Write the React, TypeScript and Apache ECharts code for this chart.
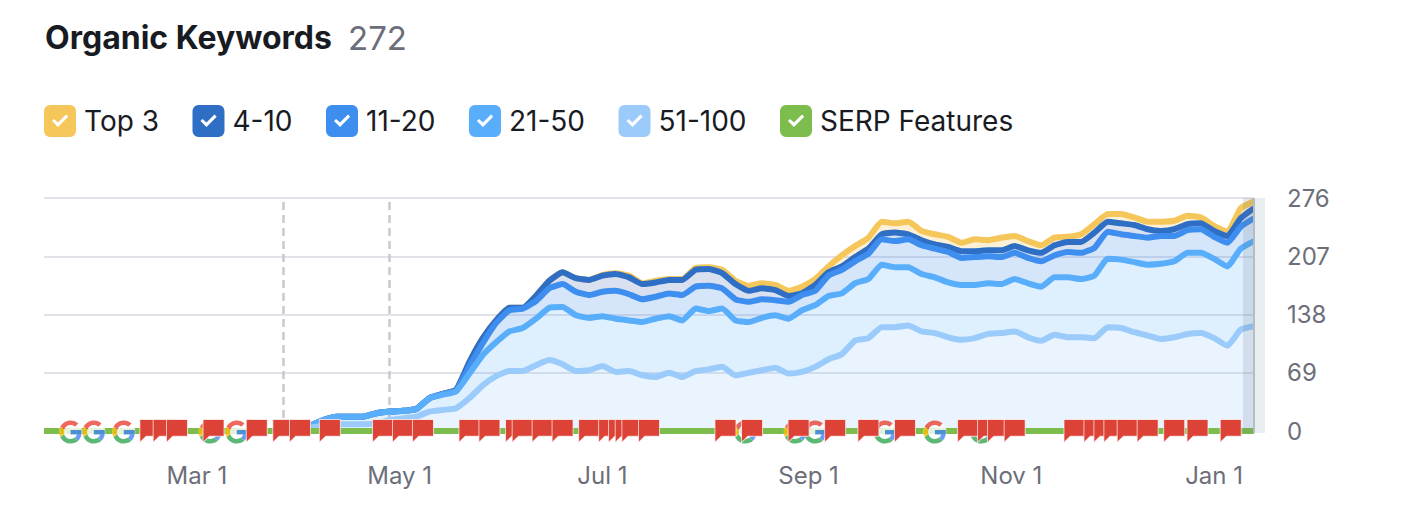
import React, { useEffect, useRef } from "react";
import * as echarts from "echarts";

const FONT = "Inter, 'Noto Sans', sans-serif";

// Level of the top edge of each band, one reading every 4 days from 2023-01-14.
const topThreeLevel = [
  0,0,0,0,0,0,0,0,0,0,0,0,0,0,0,0,0,0,0,0,
  6,13,17,17,17,21,23,24,26,39,44,49,82,110,131,146,146,160,178,188,
  181,179,185,187,184,175,178,180,180,193,194,191,178,172,175,173,166,171,180,195,
  208,219,229,248,246,248,237,233,230,223,227,226,229,231,225,220,229,230,233,245,
  257,257,253,248,248,249,255,253,243,236,264,272,
];
const fourToTenLevel = [
  0,0,0,0,0,0,0,0,0,0,0,0,0,0,0,0,0,0,0,0,
  6,13,17,17,17,21,23,24,26,39,44,49,82,110,131,146,146,160,178,188,
  181,179,184,186,182,174,176,179,179,191,192,187,174,166,169,167,160,163,173,188,
  195,206,216,233,235,233,226,221,218,213,213,214,214,219,214,211,220,224,224,235,
  248,246,244,239,237,239,245,246,237,231,252,264,
];
const elevenToTwentyLevel = [
  0,0,0,0,0,0,0,0,0,0,0,0,0,0,0,0,0,0,0,0,
  6,13,17,17,17,21,23,24,26,39,44,48,77,104,128,143,145,154,169,174,
  165,161,165,166,162,156,159,163,161,171,172,169,156,153,156,155,153,161,166,184,
  191,201,210,227,225,227,220,216,212,205,206,207,206,211,205,201,208,212,211,217,
  236,233,231,229,231,231,238,239,230,223,242,252,
];
const twentyOneToFiftyLevel = [
  0,0,0,0,0,0,0,0,0,0,0,0,0,0,0,0,0,0,0,0,
  6,13,17,17,17,21,23,24,26,39,43,47,68,90,105,118,122,133,146,147,
  137,134,136,133,131,129,133,136,131,145,142,145,131,129,134,137,133,143,149,160,
  163,175,180,197,194,194,186,182,176,173,173,175,174,180,175,171,182,182,180,184,
  204,203,200,197,198,201,211,211,204,195,216,225,
];
const fiftyOneToHundredLevel = [
  0,0,0,0,0,0,0,0,0,0,0,0,0,0,0,0,0,0,0,0,
  4,6,8,8,8,9,13,15,17,23,25,27,39,54,65,71,71,78,84,79,
  71,72,77,70,71,66,64,69,64,71,73,76,66,69,72,75,68,70,76,85,
  91,107,110,123,123,125,118,116,111,108,110,115,116,118,111,107,114,111,111,110,
  123,122,117,113,109,111,115,116,110,101,120,124,
];

const legendNames = ["Top 3", "4-10", "11-20", "21-50", "51-100", "SERP Features"];
const yTicks = [0, 69, 138, 207, 276];
const xTickDates = ["2023-03-01", "2023-05-01", "2023-07-01", "2023-09-01", "2023-11-01", "2024-01-01"];
const dashedLineDates = ["2023-03-27", "2023-04-28"];

const flagDates = [
  "2023-02-15","2023-02-19","2023-02-23","2023-03-06","2023-03-19","2023-03-27","2023-04-01","2023-04-10",
  "2023-04-26","2023-05-02","2023-05-08","2023-05-22","2023-05-28","2023-06-05","2023-06-07","2023-06-13",
  "2023-06-19","2023-06-27","2023-07-03","2023-07-06","2023-07-08","2023-07-10","2023-07-15","2023-08-07",
  "2023-08-15","2023-08-29","2023-09-09","2023-09-19","2023-09-30","2023-10-19","2023-10-25","2023-10-28",
  "2023-11-02","2023-11-20","2023-11-26","2023-11-29","2023-12-02","2023-12-06","2023-12-12","2023-12-20",
  "2023-12-27","2024-01-06",
];
const googleDates = [
  "2023-01-22","2023-01-29","2023-02-07","2023-03-05","2023-03-13","2023-08-13",
  "2023-08-28","2023-09-03","2023-09-24","2023-10-09","2023-10-23",
];

const MONTHS = ["Jan","Feb","Mar","Apr","May","Jun","Jul","Aug","Sep","Oct","Nov","Dec"];
const DAY = 86400000;
const toTime = (s: string) => Date.UTC(+s.slice(0, 4), +s.slice(5, 7) - 1, +s.slice(8, 10));
const START = toTime("2023-01-14");
const END = START + 364 * DAY;
const sampleTimes = topThreeLevel.map((_, i) => START + i * 4 * DAY);

const CHECK_ICON =
  "path://M6 0H26A6 6 0 0 1 32 6V26A6 6 0 0 1 26 32H6A6 6 0 0 1 0 26V6A6 6 0 0 1 6 0ZM8 16L14 22L24.2 11.7L22 9.5L14 17.5L10 14Z";
const FLAG_ICON = "path://M0 0H20V16H6L0 22Z";
const GOOGLE_SVG =
  '<svg xmlns="http://www.w3.org/2000/svg" viewBox="-1 -1 50 50"><circle cx="24" cy="24" r="24" fill="#fff"/>' +
  '<path fill="#EA4335" d="M24 9.5c3.54 0 6.71 1.22 9.21 3.6l6.85-6.85C35.9 2.38 30.47 0 24 0 14.62 0 6.51 5.38 2.56 13.22l7.98 6.19C12.43 13.72 17.74 9.5 24 9.5z"/>' +
  '<path fill="#4285F4" d="M46.98 24.55c0-1.57-.15-3.09-.38-4.55H24v9.02h12.94c-.58 2.96-2.26 5.48-4.78 7.18l7.73 6c4.51-4.18 7.09-10.36 7.09-17.65z"/>' +
  '<path fill="#FBBC05" d="M10.53 28.59c-.5-1.45-.79-3-.79-4.59s.27-3.14.76-4.59l-7.98-6.19C.92 16.46 0 20.12 0 24c0 3.88.92 7.54 2.56 10.78l7.97-6.19z"/>' +
  '<path fill="#34A853" d="M24 48c6.48 0 11.93-2.13 15.89-5.81l-7.73-6c-2.15 1.45-4.92 2.3-8.16 2.3-6.26 0-11.57-4.22-13.47-9.91l-7.98 6.19C6.51 42.62 14.62 48 24 48z"/></svg>';
const GOOGLE_ICON = "image://data:image/svg+xml;charset=utf-8," + encodeURIComponent(GOOGLE_SVG);

function band(name: string, upper: number[], lower: number[] | null, color: string, fill: string, z: number, extra: any = {}) {
  return {
    name,
    type: "line",
    stack: "keywords",
    z,
    showSymbol: false,
    symbol: "none",
    smooth: 0.15,
    itemStyle: { color },
    lineStyle: { color, width: 6, join: "round" },
    areaStyle: { color: fill, opacity: 1 },
    emphasis: { disabled: true },
    data: upper.map((v, i) => [sampleTimes[i], lower ? v - lower[i] : v]),
    ...extra,
  };
}

export default function App() {
  const ref = useRef<HTMLDivElement>(null);
  useEffect(() => {
    if (!ref.current) return;
    const chart = echarts.init(ref.current, undefined, { renderer: "svg" });
    chart.setOption({
      animation: false,
      backgroundColor: "#fff",
      title: [
        { text: "Organic Keywords", left: 45, top: 21, padding: 0, textStyle: { fontFamily: FONT, fontSize: 32, fontWeight: 700, color: "#191b23" } },
        { text: "272", left: 348, top: 21, padding: 0, textStyle: { fontFamily: FONT, fontSize: 33, fontWeight: 400, color: "#6c6e79" } },
      ],
      legend: {
        left: 44,
        top: 105,
        padding: 0,
        itemGap: 33.5,
        itemWidth: 32,
        itemHeight: 32,
        icon: CHECK_ICON,
        selectedMode: false,
        data: legendNames,
        itemStyle: { borderWidth: 0 },
        lineStyle: { width: 0 },
        textStyle: { fontFamily: FONT, fontSize: 28, color: "#191b23", padding: [0, 0, 0, 3] },
      },
      grid: { left: 44, right: 164, top: 198, bottom: 85 },
      xAxis: [
        {
          type: "time",
          min: START,
          max: END,
          axisLine: { show: false },
          axisTick: { show: false },
          splitLine: { show: false },
          axisLabel: { show: false },
        },
        {
          type: "value",
          position: "bottom",
          min: START,
          max: END,
          axisLine: { show: false },
          axisTick: { show: false },
          splitLine: { show: false },
          axisLabel: {
            customValues: xTickDates.map(toTime),
            margin: 32,
            fontFamily: FONT,
            fontSize: 24,
            color: "#6c6e79",
            formatter: (v: number) => { const d = new Date(v); return `${MONTHS[d.getUTCMonth()]} ${d.getUTCDate()}`; },
          },
        },
      ],
      yAxis: {
        type: "value",
        position: "right",
        min: 0,
        max: yTicks[yTicks.length - 1],
        interval: yTicks[1],
        axisLine: { show: false },
        axisTick: { show: false },
        splitLine: { lineStyle: { color: "#e1e2ea", width: 2 } },
        axisLabel: { margin: 33, fontFamily: FONT, fontSize: 24, color: "#6c6e79", padding: [0, 0, 4, 0] },
      },
      series: [
        band("51-100", fiftyOneToHundredLevel, null, "#9bcbfb", "rgba(155,203,251,0.22)", 6, {
          markLine: {
            silent: true,
            symbol: "none",
            label: { show: false },
            lineStyle: { color: "#c6c9ce", width: 2.5, type: [8, 5] },
            data: dashedLineDates.map((d) => ({ xAxis: toTime(d) })),
          },
        }),
        band("21-50", twentyOneToFiftyLevel, fiftyOneToHundredLevel, "#59aefb", "rgba(89,174,251,0.2)", 5),
        band("11-20", elevenToTwentyLevel, twentyOneToFiftyLevel, "#3e8eef", "rgba(62,142,239,0.22)", 4),
        band("4-10", fourToTenLevel, elevenToTwentyLevel, "#2f6ec5", "rgba(47,90,180,0.18)", 3),
        band("Top 3", topThreeLevel, fourToTenLevel, "#f5c65a", "rgba(245,198,90,0.25)", 2),
        {
          name: "SERP Features",
          type: "line",
          z: 7,
          symbol: "none",
          itemStyle: { color: "#7dbd4e" },
          lineStyle: { color: "#7dbd4e", width: 6 },
          emphasis: { disabled: true },
          data: sampleTimes.map((t) => [t, 0]),
        },
        {
          name: "Google updates",
          type: "scatter",
          z: 8,
          clip: false,
          symbol: GOOGLE_ICON,
          symbolSize: 24,
          symbolOffset: [0, 1],
          emphasis: { disabled: true },
          data: googleDates.map((d) => [toTime(d), 0]),
        },
        {
          name: "Notes",
          type: "scatter",
          z: 9,
          clip: false,
          symbol: FLAG_ICON,
          symbolSize: [21, 23],
          itemStyle: { color: "#dd4237", borderColor: "rgba(255,255,255,0.7)", borderWidth: 1, opacity: 1 },
          emphasis: { disabled: true },
          data: flagDates.map((d) => [toTime(d), 0]),
        },
      ],
      graphic: [
        { type: "rect", z: 100, silent: true, shape: { x: 1243, y: 198, width: 11, height: 235 }, style: { fill: "rgba(95,115,135,0.16)" } },
        { type: "rect", z: 100, silent: true, shape: { x: 1255, y: 198, width: 10, height: 235 }, style: { fill: "#e9eef0" } },
        { type: "rect", z: 100, silent: true, shape: { x: 1253, y: 198, width: 2, height: 235 }, style: { fill: "#b6bdc1" } },
      ],
    });
    return () => chart.dispose();
  }, []);
  return <div ref={ref} style={{ position: "absolute", left: 0, top: 0, width: 1418, height: 516 }} />;
}
